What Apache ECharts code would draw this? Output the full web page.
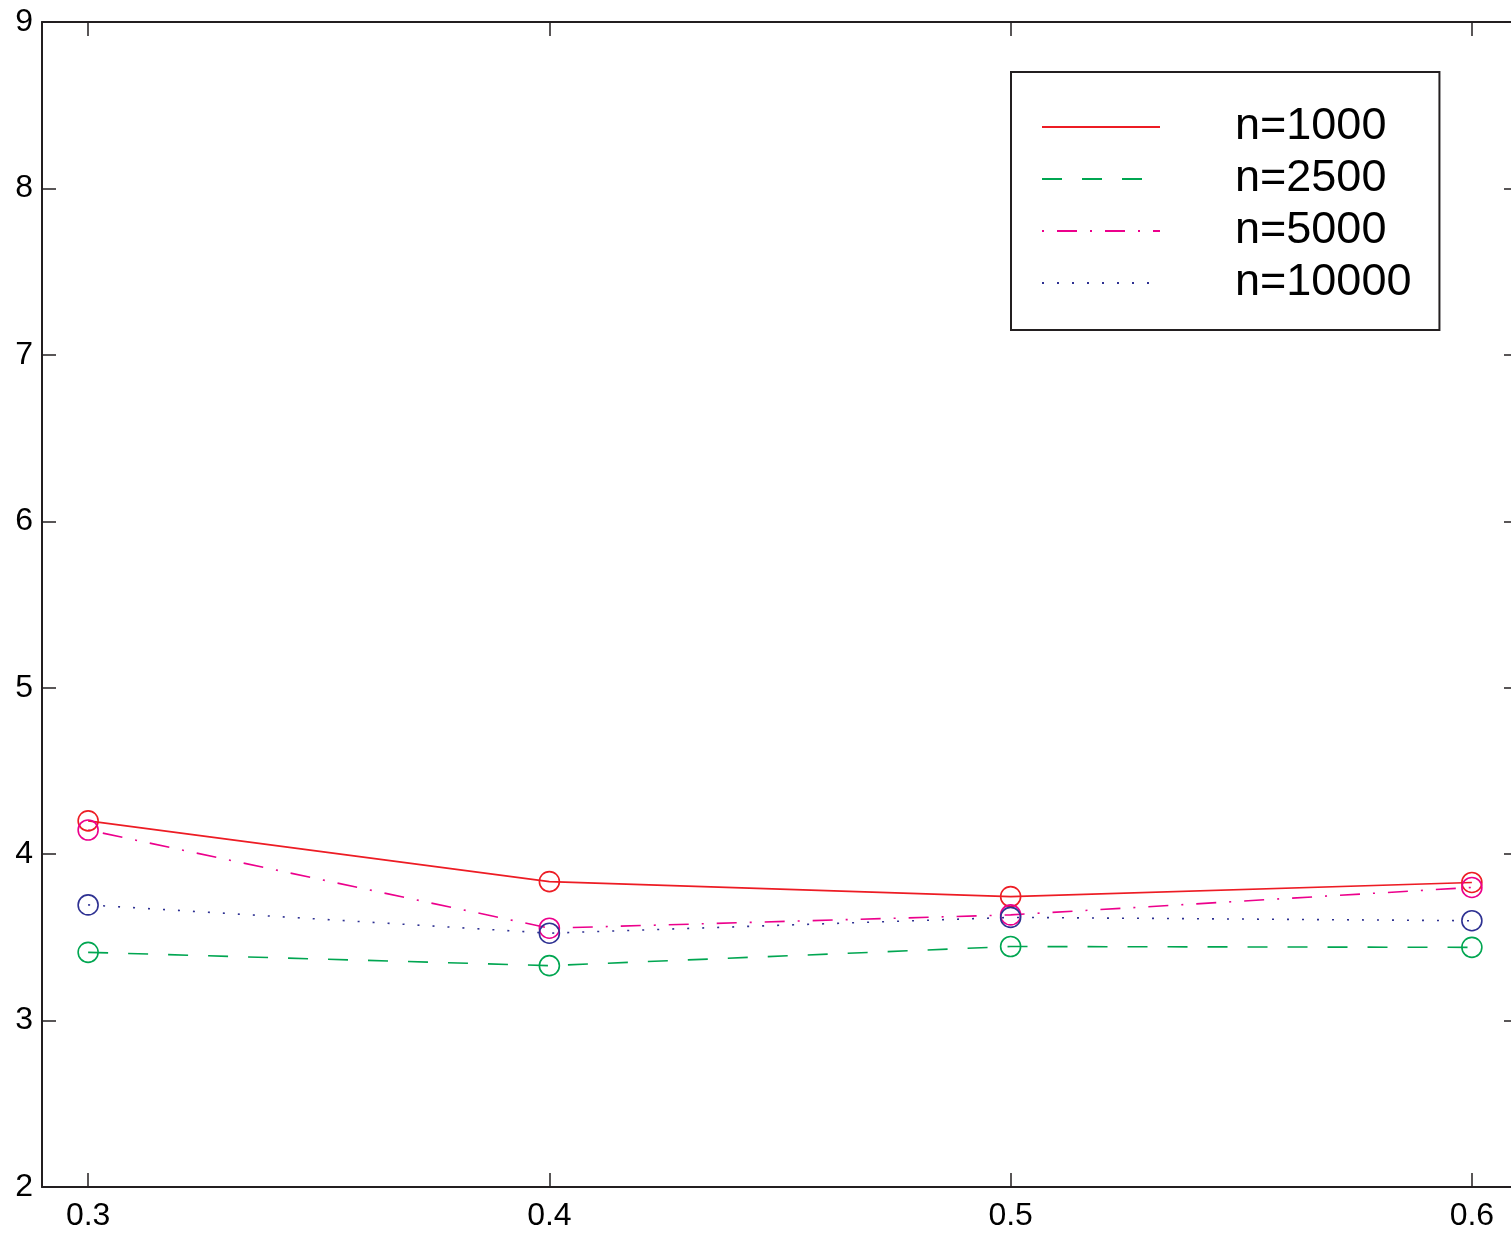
<!DOCTYPE html>
<html>
<head>
<meta charset="utf-8">
<script src="https://cdn.jsdelivr.net/npm/echarts@6/dist/echarts.min.js"></script>
<style>
  html, body { margin: 0; padding: 0; background: #fff; }
  #chart { width: 1511px; height: 1233px; }
</style>
</head>
<body>
<div id="chart"></div>
<script>
// x positions (tick values) and the four sample-size curves
const xValues = [0.3, 0.4, 0.5, 0.6];
const xTicks = [0.3, 0.4, 0.5, 0.6];
const yTicks = [2, 3, 4, 5, 6, 7, 8, 9];
const seriesNames = ['n=1000', 'n=2500', 'n=5000', 'n=10000'];
const n1000 = [4.20, 3.835, 3.745, 3.83];
const n2500 = [3.41, 3.33, 3.445, 3.44];
const n5000 = [4.145, 3.555, 3.635, 3.80];
const n10000 = [3.695, 3.525, 3.62, 3.60];

const colors = ['#ed1c24', '#00a651', '#ec008c', '#2e3192'];
const dashes = ['solid', [20, 20], [2, 13, 20, 13], [2, 13]];
const values = [n1000, n2500, n5000, n10000];

const axisColor = '#231f20';
const font = '"Liberation Sans", Arial, Helvetica, sans-serif';

const chart = echarts.init(document.getElementById('chart'), null, { renderer: 'canvas' });

const series = seriesNames.map((name, i) => ({
  name: name,
  type: 'line',
  data: xValues.map((x, k) => [x, values[i][k]]),
  symbol: 'circle',
  symbolSize: 20,
  showSymbol: true,
  animation: false,
  lineStyle: { color: colors[i], width: 1.6, type: dashes[i], cap: 'butt' },
  itemStyle: { color: 'transparent', borderColor: colors[i], borderWidth: 1.6 },
  emphasis: { disabled: true },
  z: 3
}));

chart.setOption({
  animation: false,
  backgroundColor: '#fff',
  grid: { left: 42, top: 22, width: 1476, height: 1165, containLabel: false, outerBoundsMode: 'none' },
  legend: {
    orient: 'vertical',
    left: 1011,
    top: 72,
    padding: [29, 28, 21, 30],
    itemWidth: 118,
    itemHeight: 20,
    itemGap: 0,
    borderColor: axisColor,
    borderWidth: 2,
    backgroundColor: '#fff',
    data: seriesNames,
    itemStyle: { color: 'transparent', borderWidth: 0, opacity: 0 },
    textStyle: {
      fontFamily: font,
      fontSize: 45,
      color: '#000',
      lineHeight: 52,
      padding: [0, 0, 0, 70]
    },
    selectedMode: false
  },
  xAxis: [
    {
      type: 'value',
      position: 'bottom',
      min: 0.29,
      max: 0.61,
      splitLine: { show: false },
      axisLine: { show: true, onZero: false, lineStyle: { color: axisColor, width: 2 } },
      axisTick: { show: true, inside: true, length: 14, customValues: xTicks, lineStyle: { color: axisColor, width: 1.5 } },
      axisLabel: {
        customValues: xTicks,
        margin: 13,
        fontFamily: font,
        fontSize: 32,
        color: '#000',
        formatter: v => v.toFixed(1)
      }
    },
    {
      type: 'value',
      position: 'top',
      min: 0.29,
      max: 0.61,
      splitLine: { show: false },
      axisLine: { show: true, onZero: false, lineStyle: { color: axisColor, width: 2 } },
      axisTick: { show: true, inside: true, length: 14, customValues: xTicks, lineStyle: { color: axisColor, width: 1.5 } },
      axisLabel: { show: false }
    }
  ],
  yAxis: [
    {
      type: 'value',
      position: 'left',
      min: 2,
      max: 9,
      interval: 1,
      splitLine: { show: false },
      axisLine: { show: true, onZero: false, lineStyle: { color: axisColor, width: 2 } },
      axisTick: { show: true, inside: true, length: 14, customValues: yTicks, lineStyle: { color: axisColor, width: 1.5 } },
      axisLabel: {
        customValues: yTicks,
        margin: 9,
        fontFamily: font,
        fontSize: 32,
        color: '#000'
      }
    },
    {
      type: 'value',
      position: 'right',
      min: 2,
      max: 9,
      interval: 1,
      splitLine: { show: false },
      axisLine: { show: true, onZero: false, lineStyle: { color: axisColor, width: 2 } },
      axisTick: { show: true, inside: true, length: 14, customValues: yTicks, lineStyle: { color: axisColor, width: 1.5 } },
      axisLabel: { show: false }
    }
  ],
  series: series
});
</script>
</body>
</html>
